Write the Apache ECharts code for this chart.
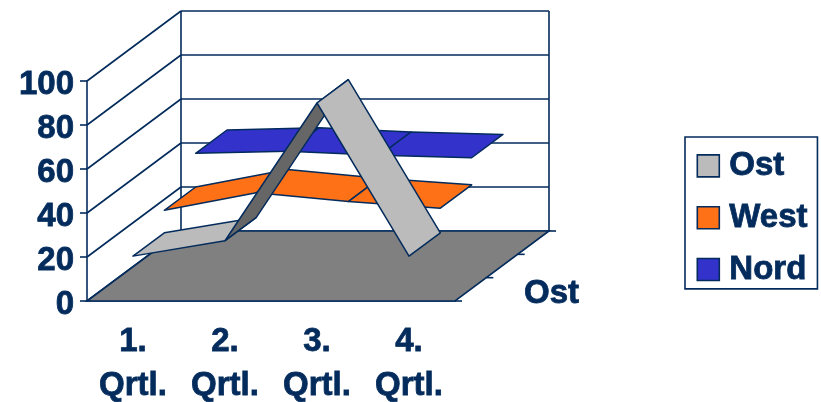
<!DOCTYPE html>
<html>
<head>
<meta charset="utf-8">
<style>html,body{margin:0;padding:0;background:#fff}#chart{width:821px;height:402px}</style>
<script src="https://cdn.jsdelivr.net/npm/echarts@6/dist/echarts.min.js"></script>
</head>
<body>
<div id="chart"></div>
<script>
// Quarterly figures per region
const categories = ['1.\nQrtl.', '2.\nQrtl.', '3.\nQrtl.', '4.\nQrtl.'];
const ost = [20.4, 27.4, 90, 20.4];
const west = [30.6, 38.6, 34.6, 31.6];
const nord = [45.9, 46.9, 45, 43.9];
const regionNames = ['Ost', 'West', 'Nord'];
const depthAxisLabel = 'Ost';

// Oblique projection: pixels moved on screen by one full step into the chart
const DEPTH_X = 94;
const DEPTH_Y = -70;
const SLOTS = regionNames.length;

const NAVY = '#032b5c';
const FONT = '"Liberation Sans", Arial, sans-serif';
const LINE_W = 1.6;
const LINE = { stroke: NAVY, lineWidth: LINE_W };
// Heavy bold lettering used by every label
const HEAVY = { textBorderColor: NAVY, textBorderWidth: 0.8 };
const LABEL = Object.assign({ color: NAVY, fontFamily: FONT, fontWeight: 'bold', fontSize: 33 }, HEAVY);

function shift(p, d) {
  return [p[0] + DEPTH_X * d, p[1] + DEPTH_Y * d];
}

// Box walls, floor, depth ticks and depth label
function renderWalls(params, api) {
  const r = params.coordSys;
  const left = r.x, right = r.x + r.width, bottom = r.y + r.height;
  const children = [];
  const line = (a, b) => children.push({
    type: 'line', shape: { x1: a[0], y1: a[1], x2: b[0], y2: b[1] }, style: LINE, silent: true
  });
  [0, 20, 40, 60, 80, 100].forEach(v => {
    const p = api.coord([0, v]);
    const a = [left, p[1]];
    const b = shift(a, 1);
    line(a, b);
    line(b, [right + DEPTH_X, b[1]]);
  });
  const backLeft = shift([left, bottom], 1);
  const backRight = shift([right, bottom], 1);
  line(backLeft, [backLeft[0], r.y + DEPTH_Y]);
  line(backRight, [backRight[0], r.y + DEPTH_Y]);
  children.push({
    type: 'polygon',
    shape: { points: [[left, bottom], backLeft, backRight, [right, bottom]] },
    style: { fill: '#808080', stroke: NAVY, lineWidth: LINE_W },
    silent: true
  });
  for (let k = 0; k <= SLOTS; k++) {
    const p = shift([right, bottom], k / SLOTS);
    line(p, [p[0] + 7, p[1]]);
  }
  children.push({
    type: 'text', silent: true,
    style: { x: right + 69, y: bottom - 7, text: depthAxisLabel, fill: NAVY,
      font: 'bold 33px ' + FONT, textAlign: 'left', textVerticalAlign: 'middle', stroke: NAVY, lineWidth: 0.8 }
  });
  return { type: 'group', children };
}

// One flat ribbon segment between two neighbouring quarters
function ribbonRenderer(values, slot, color, undersideColor) {
  return function (params, api) {
    const i = params.dataIndex;
    if (i === 0) return null;
    const a = shift(api.coord([i - 1, values[i - 1]]), slot / SLOTS);
    const b = shift(api.coord([i, values[i]]), slot / SLOTS);
    const a2 = shift(a, 1 / SLOTS);
    const b2 = shift(b, 1 / SLOTS);
    const rising = values[i] - values[i - 1] > 30;
    return {
      type: 'polygon',
      shape: { points: [a, a2, b2, b] },
      style: { fill: rising ? undersideColor : color, stroke: NAVY, lineWidth: 1.5, lineJoin: 'round' }
    };
  };
}

function ribbon(name, values, slot, color, undersideColor) {
  return {
    name,
    type: 'custom',
    coordinateSystem: 'cartesian2d',
    z: 5 + (SLOTS - slot),
    silent: true,
    itemStyle: { color },
    renderItem: ribbonRenderer(values, slot, color, undersideColor),
    data: values.map((v, i) => [i, v])
  };
}

const chart = echarts.init(document.getElementById('chart'), null, { renderer: 'canvas' });
chart.setOption({
  animation: false,
  backgroundColor: '#ffffff',
  grid: { left: 87, top: 81, width: 368, height: 220, containLabel: false, outerBoundsMode: 'none' },
  xAxis: {
    type: 'category',
    data: categories,
    boundaryGap: true,
    axisLine: { lineStyle: { color: NAVY, width: LINE_W } },
    axisTick: { length: 7, lineStyle: { color: NAVY, width: LINE_W } },
    axisLabel: Object.assign({ lineHeight: 44, margin: 19, interval: 0 }, LABEL),
    splitLine: { show: false }
  },
  yAxis: {
    type: 'value',
    min: 0,
    max: 100,
    interval: 20,
    axisLine: { show: true, lineStyle: { color: NAVY, width: LINE_W } },
    axisTick: { show: true, length: 7, lineStyle: { color: NAVY, width: LINE_W } },
    axisLabel: Object.assign({ margin: 13, formatter: '{n|{value}}',
      rich: { n: Object.assign({ padding: [8, 0, 0, 0] }, LABEL) } }, LABEL),
    splitLine: { show: false }
  },
  legend: {
    data: regionNames,
    orient: 'vertical',
    left: 685,
    top: 137,
    padding: [12, 9.5, 2.5, 11.5],
    itemGap: 18,
    itemWidth: 22,
    itemHeight: 22,
    icon: 'rect',
    selectedMode: false,
    borderColor: NAVY,
    borderWidth: LINE_W,
    itemStyle: { borderColor: NAVY, borderWidth: LINE_W },
    textStyle: Object.assign({ padding: [0, 0, 0, 5] }, LABEL)
  },
  series: [
    {
      name: 'walls',
      type: 'custom',
      coordinateSystem: 'cartesian2d',
      z: 3,
      silent: true,
      renderItem: renderWalls,
      data: [[0, 0]]
    },
    ribbon(regionNames[2], nord, 2, '#3333cc', '#222299'),
    ribbon(regionNames[1], west, 1, '#ff7117', '#b04d10'),
    ribbon(regionNames[0], ost, 0, '#bbbbbb', '#666666')
  ]
});
</script>
</body>
</html>
